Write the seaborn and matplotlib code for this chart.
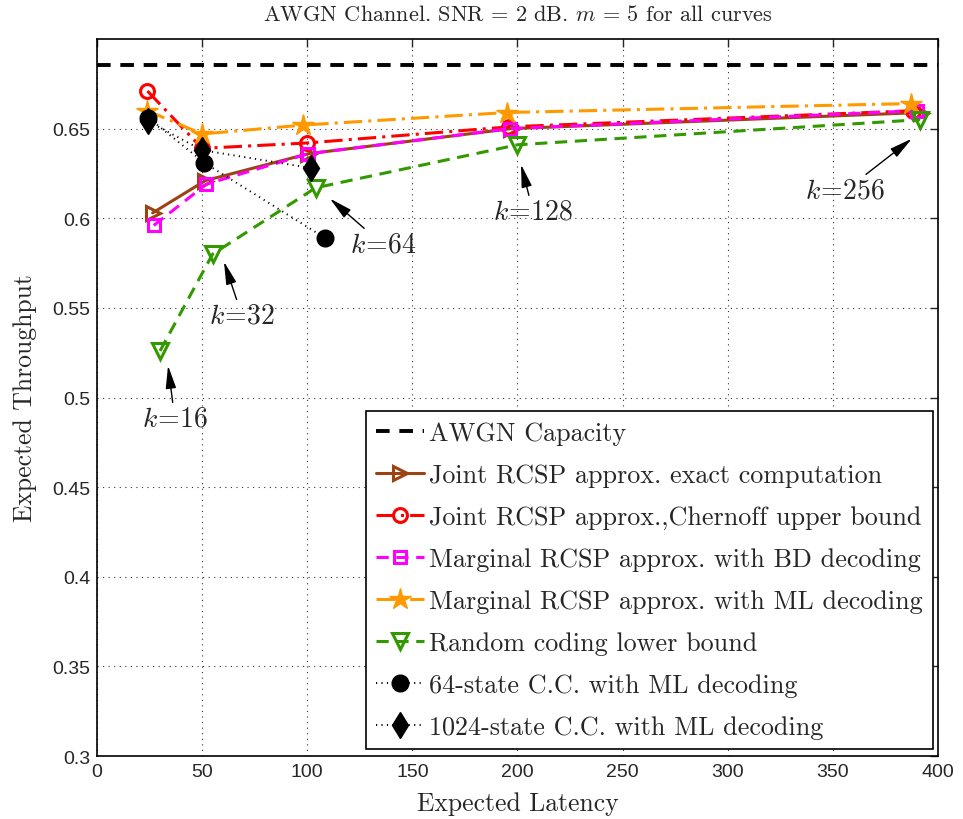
import numpy as np
import pandas as pd
import matplotlib
matplotlib.use("Agg")
import matplotlib.pyplot as plt
from matplotlib.lines import Line2D
import seaborn as sns

# ---- data ----
capacity = 0.6857

x_joint = [26.5, 51.5, 100.5, 197, 392]
y_joint = [0.603, 0.621, 0.636, 0.650, 0.659]

x_chern = [24, 50, 100, 196, 388]
y_chern = [0.671, 0.639, 0.642, 0.651, 0.660]

x_bd = [27, 52, 100.5, 196.5, 390]
y_bd = [0.596, 0.619, 0.636, 0.650, 0.660]

x_ml = [24, 50, 98, 195, 387]
y_ml = [0.660, 0.647, 0.652, 0.659, 0.664]

x_rc = [30, 55, 104, 200, 391.5]
y_rc = [0.526, 0.580, 0.617, 0.641, 0.655]

x_cc64 = [24.5, 51, 108.5]
y_cc64 = [0.656, 0.631, 0.589]

x_cc1024 = [24.5, 50, 102]
y_cc1024 = [0.654, 0.638, 0.628]

k_labels = ["16", "32", "64", "128", "256"]
k_tip_x = [33.8, 60.4, 110.8, 201.7, 387.6]
k_tip_y = [0.5178, 0.5758, 0.611, 0.630, 0.6444]
k_txt_x = [37, 69, 136, 207.4, 355.8]
k_txt_y = [0.4882, 0.5456, 0.5853, 0.6037, 0.6154]

labels = [
    "AWGN Capacity",
    "Joint RCSP approx. exact computation",
    "Joint RCSP approx.,Chernoff upper bound",
    "Marginal RCSP approx. with BD decoding",
    "Marginal RCSP approx. with ML decoding",
    "Random coding lower bound",
    "64-state C.C. with ML decoding",
    "1024-state C.C. with ML decoding",
]

# ---- style ----
sns.set_style("white")
plt.rcParams["font.family"] = ["Liberation Sans", "DejaVu Sans"]
plt.rcParams["mathtext.fontset"] = "cm"
plt.rcParams["axes.unicode_minus"] = False
serif = "cmr10"

fig = plt.figure(figsize=(9.63, 8.20), dpi=100)
ax = fig.add_axes([0.1007, 0.0768, 0.9740 - 0.1007, 0.9512 - 0.0768])

cap_style = dict(color="black", linestyle=(0, (3.5, 2.5)), linewidth=2.8)
ax.axhline(capacity, zorder=5, **cap_style)

dashdot = (0, (6, 2, 1, 2))
dash = (0, (4, 2.5))
dot = (0, (0.6, 2.2))
styles = [
    dict(color="#9C4314", linestyle="-", linewidth=2.2, marker=">", markerfacecolor="none",
         markeredgecolor="#9C4314", markeredgewidth=2.2, markersize=10),
    dict(color="#FF0000", linestyle=dashdot, linewidth=2.2, marker="o", markerfacecolor="none",
         markeredgecolor="#FF0000", markeredgewidth=2.2, markersize=10),
    dict(color="#FF00FF", linestyle=dash, linewidth=2.2, marker="s", markerfacecolor="none",
         markeredgecolor="#FF00FF", markeredgewidth=2.2, markersize=9),
    dict(color="#FF9900", linestyle=dashdot, linewidth=2.2, marker="*", markerfacecolor="#FF9900",
         markeredgecolor="#FF9900", markeredgewidth=1.0, markersize=16),
    dict(color="#339900", linestyle=dash, linewidth=2.2, marker="v", markerfacecolor="none",
         markeredgecolor="#339900", markeredgewidth=2.2, markersize=11),
    dict(color="black", linestyle=dot, linewidth=1.4, marker="o", markerfacecolor="black",
         markeredgecolor="black", markeredgewidth=1.0, markersize=12),
    dict(color="black", linestyle=dot, linewidth=1.4, marker="d", markerfacecolor="black",
         markeredgecolor="black", markeredgewidth=1.0, markersize=13),
]
xs_all = [x_joint, x_chern, x_bd, x_ml, x_rc, x_cc64, x_cc1024]
ys_all = [y_joint, y_chern, y_bd, y_ml, y_rc, y_cc64, y_cc1024]

for xs, ys, st in zip(xs_all, ys_all, styles):
    df = pd.DataFrame({"x": xs, "y": ys})
    sns.lineplot(data=df, x="x", y="y", ax=ax, sort=False, legend=False, **st)

for lab, tx, ty, px, py in zip(k_labels, k_txt_x, k_txt_y, k_tip_x, k_tip_y):
    ax.annotate(r"$k\!=\!%s$" % lab, xy=(px, py), xytext=(tx, ty),
                ha="center", va="center", fontsize=20,
                arrowprops=dict(arrowstyle="-|>,head_length=1.4,head_width=0.32",
                                color="black", lw=1.0,
                                mutation_scale=10, shrinkA=0, shrinkB=0))

ax.set_xlim(0, 400)
ax.set_ylim(0.3, 0.7)
ax.set_xticks(np.arange(0, 401, 50))
ax.set_yticks(np.arange(0.3, 0.651, 0.05))
ax.set_yticklabels(["0.3", "0.35", "0.4", "0.45", "0.5", "0.55", "0.6", "0.65"])
ax.tick_params(direction="in", length=6, width=1, top=True, right=True, labelsize=14, pad=5)
ax.grid(True, color="black", linestyle=(0, (1, 4)), linewidth=0.8, alpha=0.8)
for s in ax.spines.values():
    s.set_linewidth(1.2)
    s.set_color("black")

ax.set_xlabel("Expected Latency", fontfamily=serif, fontsize=18.5, labelpad=8)
ax.set_ylabel("Expected Throughput", fontfamily=serif, fontsize=18.5, labelpad=11)
ax.set_title("AWGN Channel. SNR = 2 dB. $m$ = 5 for all curves", fontfamily=serif,
             fontsize=16, pad=14)

handles = [Line2D([], [], **cap_style)] + [Line2D([], [], **st) for st in styles]
leg = ax.legend(handles, labels, loc="lower right", prop={"family": serif, "size": 18.8},
                frameon=True, fancybox=False, edgecolor="black", framealpha=1,
                handlelength=1.85, labelspacing=0.7, borderpad=0.38, handletextpad=0.2,
                borderaxespad=0.0, bbox_to_anchor=(0.994, 0.0098))
leg.get_frame().set_linewidth(1.2)

fig.savefig("out.png", dpi=100)
